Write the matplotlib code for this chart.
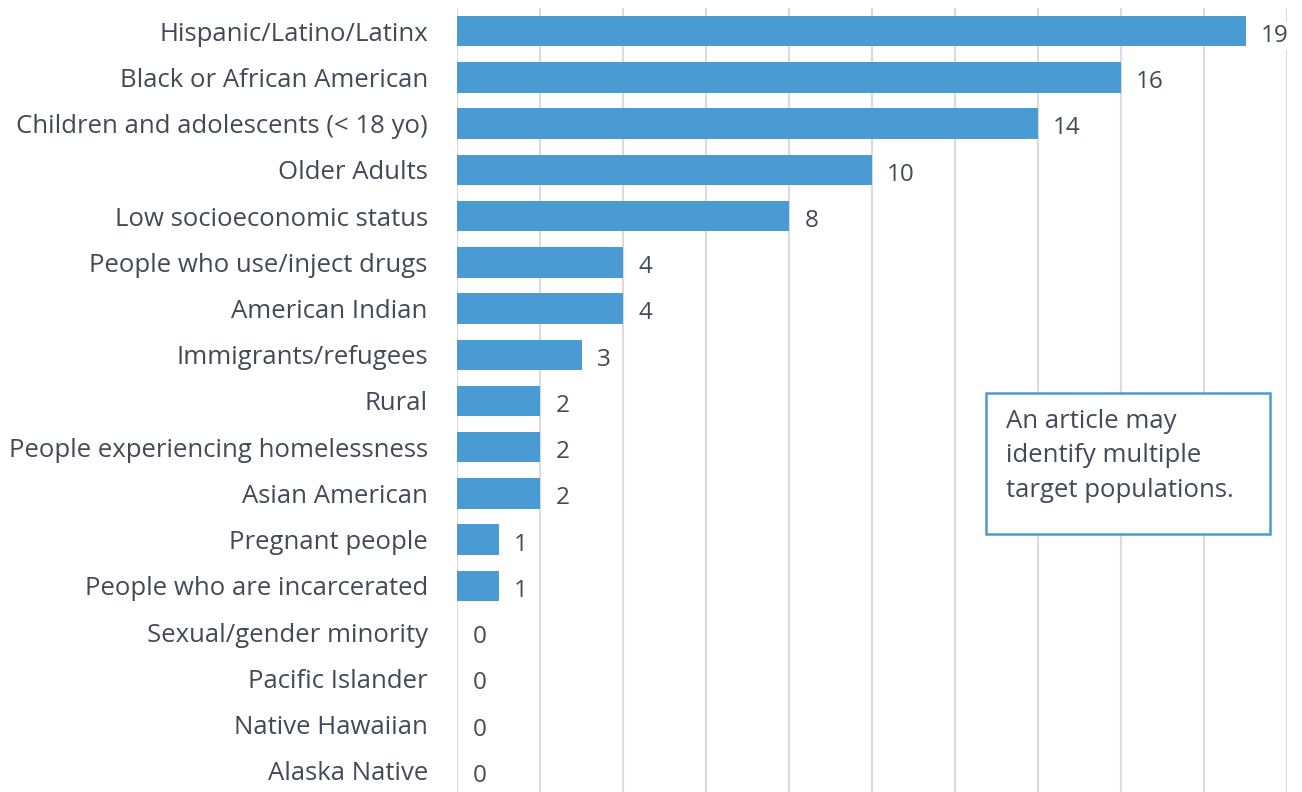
import matplotlib.pyplot as plt
import numpy as np

plt.rcParams['font.family'] = ['Open Sans', 'DejaVu Sans']

# target populations, top to bottom
groups = ['Hispanic/Latino/Latinx', 'Black or African American',
          'Children and adolescents (< 18 yo)', 'Older Adults',
          'Low socioeconomic status', 'People who use/inject drugs',
          'American Indian', 'Immigrants/refugees', 'Rural',
          'People experiencing homelessness', 'Asian American',
          'Pregnant people', 'People who are incarcerated',
          'Sexual/gender minority', 'Pacific Islander', 'Native Hawaiian',
          'Alaska Native']
counts = [19, 16, 14, 10, 8, 4, 4, 3, 2, 2, 2, 1, 1, 0, 0, 0, 0]

bar_color = '#4a9bd4'
text_color = '#434a57'
grid_color = '#dcdce0'

fig = plt.figure(figsize=(13.02, 7.92), dpi=100)
ax = fig.add_axes([457 / 1302, -2 / 792, 830 / 1302, 786 / 792])

y = np.arange(len(groups))
ax.barh(y, counts, height=0.66, color=bar_color, zorder=2)

for yi, c in zip(y, counts):
    ax.annotate(str(c), (c, yi), xytext=(11, -3.5), textcoords='offset points',
                ha='left', va='center', fontsize=17.5, color=text_color,
                bbox=dict(boxstyle='square,pad=0.1', fc='white', ec='none'),
                annotation_clip=False, zorder=3)

ax.set_xlim(0, 20)
ax.set_ylim(len(groups) - 0.5, -0.5)
ax.set_xticks(np.arange(0, 21, 2))
ax.set_yticks(y)
ax.set_yticklabels(groups)
ax.tick_params(axis='y', length=0, pad=21, labelsize=18.5, labelcolor=text_color)
ax.tick_params(axis='x', length=0, labelbottom=False)
ax.grid(axis='x', color=grid_color, linewidth=1.6, zorder=0)
for s in ax.spines.values():
    s.set_visible(False)

fig.text(1006 / 1302, 1 - 409 / 792,
         'An article may\nidentify multiple\ntarget populations.',
         ha='left', va='top', fontsize=18.5, color=text_color, linespacing=1.5)
box = plt.Rectangle((986 / 1302, 1 - 534 / 792), 284 / 1302, 141 / 792,
                    transform=fig.transFigure, fill=True, fc='white',
                    ec=bar_color, lw=1.8, zorder=1)
fig.patches.append(box)

fig.savefig('out.png', dpi=100)
